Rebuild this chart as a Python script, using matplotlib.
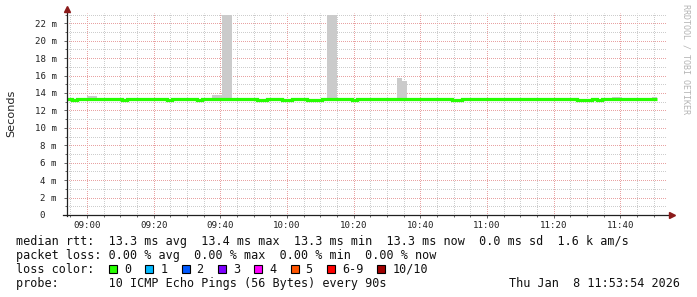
import matplotlib
matplotlib.use("Agg")
import matplotlib.pyplot as plt
from matplotlib.patches import Rectangle
import numpy as np
import pandas as pd

# SmokePing style graph, 3 h window ending Thu Jan 8 11:53:54 2026
t_start = "08:53:54"
t_end = "11:53:54"
first_sample = "08:54:00"
step_s = 90

# median rtt per 90 s step (ms)
median_ms = [
    13.3, 13.2, 13.3, 13.3, 13.3, 13.3, 13.3, 13.3, 13.3, 13.3,
    13.3, 13.2, 13.3, 13.3, 13.3, 13.3, 13.3, 13.3, 13.3, 13.3,
    13.2, 13.3, 13.3, 13.3, 13.3, 13.3, 13.2, 13.3, 13.3, 13.3,
    13.3, 13.3, 13.3, 13.3, 13.3, 13.3, 13.3, 13.3, 13.2, 13.2,
    13.3, 13.3, 13.3, 13.2, 13.2, 13.3, 13.3, 13.3, 13.2, 13.2,
    13.2, 13.3, 13.3, 13.3, 13.3, 13.3, 13.3, 13.2, 13.3, 13.3,
    13.3, 13.3, 13.3, 13.3, 13.3, 13.3, 13.3, 13.3, 13.3, 13.3,
    13.3, 13.3, 13.3, 13.3, 13.3, 13.3, 13.3, 13.2, 13.2, 13.3,
    13.3, 13.3, 13.3, 13.3, 13.3, 13.3, 13.3, 13.3, 13.3, 13.3,
    13.3, 13.3, 13.3, 13.3, 13.3, 13.3, 13.3, 13.3, 13.3, 13.3,
    13.3, 13.3, 13.2, 13.2, 13.2, 13.3, 13.2, 13.3, 13.3, 13.3,
    13.3, 13.3, 13.3, 13.3, 13.3, 13.3, 13.3, 13.3,
]

# smoke (ping spread) where it shows above the median line
smoke_times = ["09:00:00", "09:01:30", "09:37:30", "09:39:00", "09:40:30",
               "09:42:00", "10:12:00", "10:13:30", "10:33:00", "10:34:30",
               "11:37:30", "11:39:00", "11:49:30"]
smoke_top_ms = [13.7, 13.6, 13.75, 13.8, 22.95,
                22.95, 22.95, 22.95, 15.7, 15.38,
                13.5, 13.5, 13.5]
smoke_floor_ms = 13.2

x_tick_labels = ["09:00", "09:20", "09:40", "10:00", "10:20",
                 "10:40", "11:00", "11:20", "11:40"]
y_ticks_ms = [0, 2, 4, 6, 8, 10, 12, 14, 16, 18, 20, 22]

loss_labels = ["0", "1", "2", "3", "4", "5", "6-9", "10/10"]
loss_colors = ["#26ff00", "#00b8ff", "#0059ff", "#7e00ff",
               "#ff00fe", "#ff5500", "#ff0000", "#a10000"]

legend_rows = [
    "median rtt:  13.3 ms avg  13.4 ms max  13.3 ms min  13.3 ms now  0.0 ms sd  1.6 k am/s",
    "packet loss: 0.00 % avg  0.00 % max  0.00 % min  0.00 % now",
    "loss color:",
    "probe:       10 ICMP Echo Pings (56 Bytes) every 90s",
]
stamp = "Thu Jan  8 11:53:54 2026"


def mins(s):
    # minutes relative to 09:00
    return (pd.to_timedelta(s) - pd.to_timedelta("09:00:00")).total_seconds() / 60


W, H = 697, 297
fig = plt.figure(figsize=(W / 100, H / 100), dpi=100)


def fx(px):
    return px / W


def fy(py):
    return 1 - py / H


ax = fig.add_axes([fx(66.7), fy(215), 600 / W, 202 / H])

edges = mins(first_sample) + np.arange(len(median_ms) + 1) * step_s / 60
sm_x = np.array([mins(s) for s in smoke_times])
sm_top = np.array(smoke_top_ms)
ax.bar(sm_x, sm_top - smoke_floor_ms, bottom=smoke_floor_ms, width=step_s / 60,
       align="edge", color="#cbcbcb", linewidth=0, zorder=2)
ax.stairs(median_ms, edges, baseline=None, color="#26ff00", linewidth=2.3, zorder=3)

ax.set_xlim(mins(t_start), mins(t_end))
ax.set_ylim(0, 23.18)

ax.set_xticks([mins(s + ":00") for s in x_tick_labels])
ax.set_xticklabels(x_tick_labels)
ax.set_xticks(np.arange(-5, 175, 5), minor=True)
ax.set_yticks(y_ticks_ms)
ax.set_yticklabels([f"{v} m" if v else "0  " for v in y_ticks_ms])
ax.set_yticks(np.arange(0, 24, 1), minor=True)

# 1 px on / 1 px off dots, offset half a pixel so they land on whole pixels
ax.set_axisbelow(True)
ax.grid(which="minor", color="#cdcdcd", linestyle=(0.5, (1, 1)), linewidth=0.72)
ax.grid(which="major", color="#e8a2a2", linestyle=(0.5, (1, 1)), linewidth=0.72,
        zorder=1)

for s in ax.spines.values():
    s.set_visible(False)
ax.tick_params(which="both", length=2, width=0.7, color="#666666",
               labelsize=6.6, labelfontfamily="DejaVu Sans Mono", labelcolor="#222222")
ax.tick_params(axis="x", which="major", pad=2.5)
ax.tick_params(axis="y", which="major", pad=5)
ax.tick_params(which="minor", length=1.5)

# axes with arrows
ax.plot([0, 0], [-0.005, 1.01], transform=ax.transAxes, color="#202020",
        linewidth=0.9, clip_on=False, zorder=5)
ax.plot([-0.006, 1.005], [0, 0], transform=ax.transAxes, color="#202020",
        linewidth=0.9, clip_on=False, zorder=5)
ax.plot([0], [1.02], marker="^", markersize=4, color="#8b1a1a",
        transform=ax.transAxes, clip_on=False, zorder=6)
ax.plot([1.008], [0], marker=">", markersize=4, color="#8b1a1a",
        transform=ax.transAxes, clip_on=False, zorder=6)

fig.text(fx(11), fy(113), "Seconds", rotation=90, ha="center", va="center",
         fontsize=8.1, family="DejaVu Sans", color="#222222")
fig.text(fx(686), fy(4), "RRDTOOL / TOBI OETIKER", rotation=270, ha="center",
         va="top", fontsize=6.0, family="DejaVu Sans Mono", color="#b4b4b4")

mono = dict(fontsize=8.5, family="DejaVu Sans Mono", color="#111111", va="baseline")
for i, row in enumerate(legend_rows):
    fig.text(fx(16), fy(245 + 14 * i), row, ha="left", **mono)
fig.text(fx(680), fy(287), stamp, ha="right", **mono)

# loss color swatches
cw = 7.1
x = 109
for lab, col in zip(loss_labels, loss_colors):
    fig.add_artist(Rectangle((fx(x), fy(273)), 8 / W, 8 / H, facecolor=col,
                             edgecolor="black", linewidth=0.8, transform=fig.transFigure))
    fig.text(fx(x + 15), fy(273), lab, ha="left", **mono)
    x = x + 15 + (len(lab) + 2) * cw

fig.savefig("out.png", dpi=100)
